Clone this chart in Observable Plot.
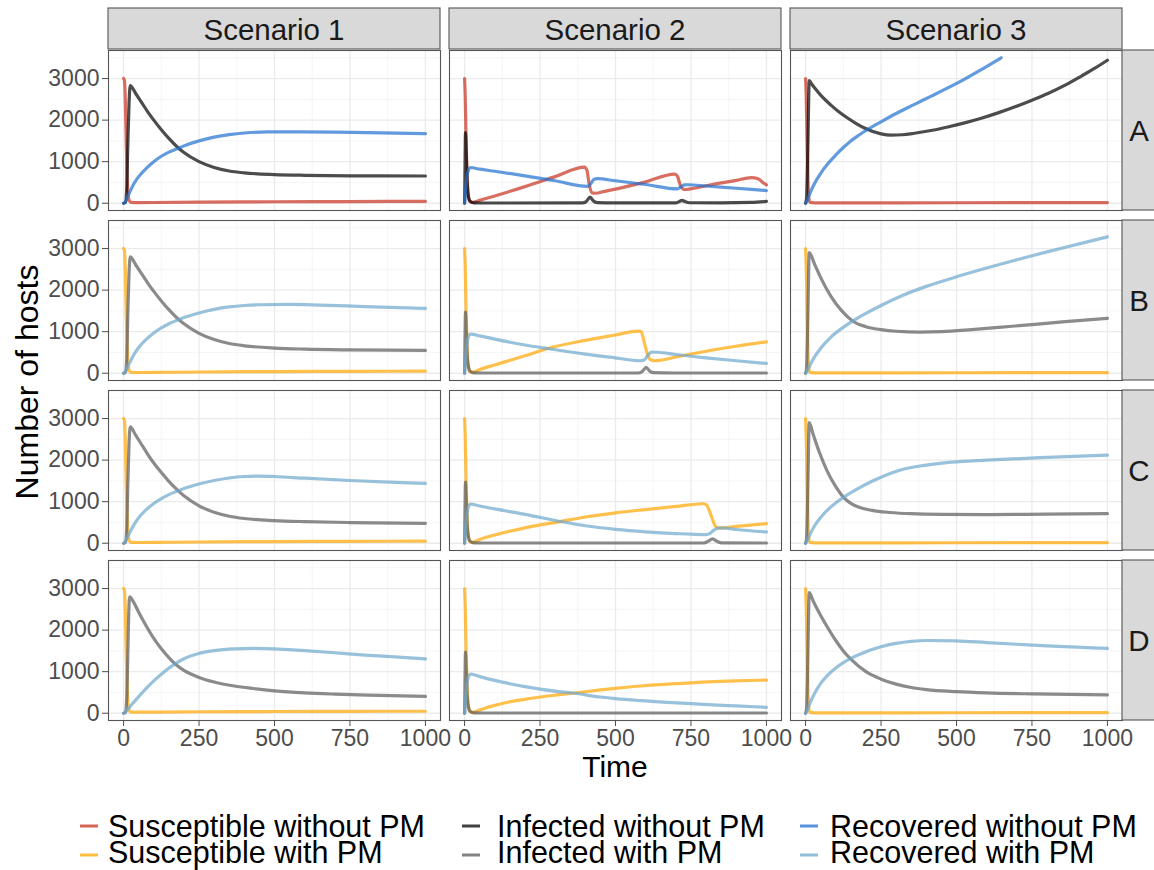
<!DOCTYPE html>
<html><head><meta charset="utf-8">
<script src="https://cdn.jsdelivr.net/npm/d3@7"></script>
<script src="https://cdn.jsdelivr.net/npm/@observablehq/plot@0.6"></script>
<style>
body{margin:0;background:#fff;font-family:"Liberation Sans",Arial,Helvetica,sans-serif;}
#wrap{position:relative;width:1154px;height:870px;overflow:hidden;}
svg{display:block;}
</style></head><body><div id="wrap"><div id="chart"></div><div id="legend"></div></div>
<script>
const scenarios = ["Scenario 1", "Scenario 2", "Scenario 3"];
const groups = ["A", "B", "C", "D"];
const compartments = ["Susceptible", "Infected", "Recovered"];
const seriesNames = ["Susceptible without PM", "Susceptible with PM", "Infected without PM", "Infected with PM", "Recovered without PM", "Recovered with PM"];
const seriesColors = ["#C8311E", "#FFA500", "#000000", "#5a5a5a", "#1F6FD0", "#6CA6CD"];
const xTicks = [0, 250, 500, 750, 1000];
const xTickLabels = ["0", "250", "500", "750", "1000"];
const xMinor = [125, 375, 625, 875];
const yTicks = [0, 1000, 2000, 3000];
const yTickLabels = ["0", "1000", "2000", "3000"];
const yMinor = [500, 1500, 2500, 3500];
const xTitle = "Time";
const yTitle = "Number of hosts";

// ---- Scenario 1 ----
const s1A_S = [[0,3000],[3,2950],[6,2400],[9,1400],[12,600],[15,200],[19,60],[25,20],[50,15],[100,18],[250,25],[500,35],[750,40],[1000,45]];
const s1A_I = [[0,0],[6,20],[10,300],[14,1400],[18,2400],[22,2830],[40,2640],[60,2420],[80,2200],[100,2000],[125,1770],[150,1560],[177,1360],[200,1220],[250,1000],[300,860],[350,775],[400,730],[500,690],[600,672],[750,660],[1000,655]];
const s1A_R = [[0,0],[5,15],[10,100],[20,260],[35,480],[50,640],[75,840],[100,1000],[125,1130],[150,1230],[177,1310],[200,1380],[250,1500],[300,1590],[350,1650],[400,1690],[477,1715],[588,1715],[700,1710],[810,1700],[1000,1675]];

const s1B_S = [[0,3000],[3,2950],[6,2400],[9,1400],[12,600],[15,200],[19,60],[25,20],[50,18],[100,20],[250,30],[500,40],[750,45],[1000,50]];
const s1B_I = [[0,0],[6,20],[10,300],[14,1400],[18,2400],[22,2800],[40,2610],[60,2390],[80,2170],[100,1970],[125,1740],[150,1530],[177,1330],[200,1190],[250,960],[300,810],[350,715],[400,660],[500,605],[600,580],[750,562],[1000,550]];
const s1B_R = [[0,0],[5,15],[10,100],[20,250],[35,460],[50,620],[75,815],[100,970],[125,1090],[150,1190],[177,1275],[200,1340],[250,1450],[300,1535],[350,1595],[400,1630],[450,1648],[550,1655],[650,1640],[800,1605],[1000,1560]];

const s1C_S = [[0,3000],[3,2950],[6,2400],[9,1400],[12,600],[15,200],[19,60],[25,20],[50,18],[100,20],[250,30],[500,40],[750,45],[1000,50]];
const s1C_I = [[0,0],[6,20],[10,300],[14,1400],[18,2400],[22,2800],[40,2600],[60,2370],[80,2140],[100,1930],[125,1700],[150,1490],[177,1290],[200,1140],[250,900],[300,745],[350,650],[400,595],[500,545],[600,520],[750,498],[1000,480]];
const s1C_R = [[0,0],[5,15],[10,100],[20,250],[35,455],[50,615],[75,805],[100,955],[125,1075],[150,1170],[177,1250],[200,1315],[250,1425],[300,1510],[350,1570],[400,1605],[450,1615],[500,1605],[600,1565],[750,1510],[900,1465],[1000,1440]];

const s1D_S = [[0,3000],[3,2950],[6,2400],[9,1400],[12,600],[15,200],[19,60],[25,25],[50,25],[100,28],[250,35],[500,42],[750,46],[1000,48]];
const s1D_I = [[0,0],[6,20],[10,300],[14,1400],[17,2400],[20,2800],[35,2650],[50,2430],[75,2100],[100,1800],[125,1550],[150,1340],[175,1160],[200,1030],[250,860],[300,750],[367,655],[430,595],[500,540],[600,490],[700,460],[850,430],[1000,405]];
const s1D_R = [[0,0],[5,15],[10,60],[25,190],[50,400],[75,600],[100,780],[125,940],[163,1150],[200,1310],[246,1430],[300,1505],[367,1548],[430,1560],[500,1550],[600,1505],[700,1455],[800,1400],[900,1355],[1000,1310]];

// ---- Scenario 2 ----
const s2A_S = [[0,3000],[2,2600],[5,1500],[8,700],[12,200],[18,40],[25,20],[50,70],[100,175],[200,400],[300,640],[397,870],[405,800],[413,450],[422,250],[435,240],[460,280],[500,340],[600,515],[696,700],[705,650],[715,430],[728,330],[760,360],[800,420],[900,550],[950,615],[972,590],[988,500],[1000,440]];
const s2A_I = [[0,0],[1,600],[3,1700],[5,1300],[8,600],[12,200],[18,50],[30,10],[100,5],[390,8],[403,40],[416,145],[426,60],[440,15],[500,8],[700,10],[710,35],[720,70],[730,40],[745,12],[850,10],[950,20],[1000,45]];
const s2A_R = [[0,0],[3,300],[8,650],[14,820],[20,860],[50,820],[100,770],[200,660],[300,540],[408,405],[418,470],[428,570],[440,590],[500,540],[600,450],[705,345],[716,390],[728,440],[740,445],[800,415],[900,360],[1000,305]];

const s2B_S = [[0,3000],[2,2600],[5,1500],[8,700],[12,200],[18,40],[25,20],[50,90],[100,200],[200,420],[275,595],[400,790],[500,920],[575,1015],[585,1005],[595,750],[605,480],[615,330],[630,300],[650,315],[700,390],[800,530],[900,650],[1000,755]];
const s2B_I = [[0,0],[1,600],[3,1470],[5,1100],[8,500],[12,180],[18,50],[30,10],[100,5],[575,5],[588,40],[602,140],[612,60],[625,15],[700,5],[1000,5]];
const s2B_R = [[0,0],[3,300],[8,700],[14,900],[21,940],[50,900],[100,820],[200,680],[275,595],[400,460],[500,370],[580,300],[595,320],[607,430],[620,510],[640,505],[700,450],[800,370],[900,300],[1000,235]];

const s2C_S = [[0,3000],[2,2600],[5,1500],[8,700],[12,200],[18,40],[25,20],[50,90],[100,200],[200,370],[320,526],[400,630],[500,730],[600,810],[700,885],[790,950],[800,935],[810,800],[820,600],[830,420],[842,370],[900,405],[1000,470]];
const s2C_I = [[0,0],[1,600],[3,1470],[5,1100],[8,500],[12,180],[18,50],[30,10],[100,5],[790,5],[805,40],[822,105],[835,50],[850,10],[1000,5]];
const s2C_R = [[0,0],[3,300],[8,700],[14,900],[21,940],[50,895],[100,825],[200,695],[320,520],[400,420],[500,335],[600,275],[700,232],[800,208],[812,230],[825,310],[840,365],[860,365],[900,330],[1000,272]];

const s2D_S = [[0,3000],[2,2600],[5,1500],[8,700],[12,200],[18,40],[25,20],[50,80],[100,190],[143,265],[200,335],[250,390],[300,435],[364,486],[450,560],[500,600],[585,655],[700,712],[806,756],[900,780],[1000,797]];
const s2D_I = [[0,0],[1,600],[3,1470],[5,1100],[8,500],[12,180],[18,50],[30,10],[100,5],[1000,5]];
const s2D_R = [[0,0],[3,300],[8,700],[14,900],[21,940],[50,880],[100,790],[150,710],[200,640],[250,580],[300,530],[358,486],[450,390],[500,350],[585,301],[700,250],[806,206],[900,175],[1000,143]];

// ---- Scenario 3 ----
const s3A_S = [[0,3000],[2,2600],[5,1500],[8,500],[11,100],[15,20],[30,10],[100,10],[500,12],[1000,15]];
const s3A_I = [[0,0],[3,100],[6,800],[9,2000],[12,2950],[20,2870],[35,2730],[50,2600],[84,2360],[110,2200],[139,2050],[165,1930],[195,1810],[250,1670],[283,1640],[320,1648],[361,1684],[420,1755],[471,1835],[530,1940],[582,2045],[640,2180],[692,2315],[750,2480],[803,2640],[860,2840],[914,3060],[960,3255],[1000,3440]];
const s3A_R = [[0,0],[5,60],[15,250],[30,480],[50,720],[75,960],[100,1160],[125,1340],[150,1500],[175,1630],[200,1750],[250,1960],[300,2160],[361,2380],[420,2590],[471,2775],[530,3000],[582,3215],[648,3500]];

const s3B_S = [[0,3000],[2,2600],[5,1500],[8,500],[11,100],[15,20],[30,10],[100,10],[500,12],[1000,15]];
const s3B_I = [[0,0],[3,100],[6,800],[9,2000],[12,2900],[30,2620],[50,2300],[84,1850],[120,1500],[157,1250],[200,1120],[250,1050],[300,1010],[380,990],[450,1000],[550,1050],[650,1110],[750,1170],[850,1235],[1000,1320]];
const s3B_R = [[0,0],[5,50],[15,200],[30,400],[50,600],[84,870],[120,1080],[157,1260],[200,1440],[250,1630],[317,1860],[400,2090],[500,2320],[600,2530],[700,2730],[800,2920],[900,3100],[1000,3280]];

const s3C_S = [[0,3000],[2,2600],[5,1500],[8,500],[11,100],[15,20],[30,10],[100,10],[500,12],[1000,15]];
const s3C_I = [[0,0],[3,100],[6,800],[9,2000],[12,2900],[25,2620],[45,2200],[70,1760],[100,1360],[125,1110],[150,960],[175,870],[220,790],[280,740],[350,710],[450,695],[600,690],[800,700],[1000,710]];
const s3C_R = [[0,0],[5,60],[15,220],[30,420],[50,620],[80,850],[105,1000],[133,1140],[175,1320],[220,1490],[280,1680],[317,1770],[400,1880],[483,1950],[600,2000],[800,2065],[1000,2120]];

const s3D_S = [[0,3000],[2,2600],[5,1500],[8,500],[11,100],[15,20],[30,10],[100,10],[500,12],[1000,15]];
const s3D_I = [[0,0],[3,100],[6,800],[9,2000],[12,2900],[25,2700],[45,2420],[70,2100],[100,1750],[125,1500],[150,1300],[200,1000],[250,820],[300,700],[350,620],[400,570],[500,520],[600,490],[750,465],[1000,440]];
const s3D_R = [[0,0],[5,60],[15,250],[30,480],[50,720],[75,930],[100,1090],[125,1220],[150,1320],[200,1480],[250,1600],[300,1680],[350,1730],[400,1750],[500,1740],[600,1700],[700,1660],[800,1620],[900,1590],[1000,1560]];

const panelSeries = {
  "Scenario 1": {A: [s1A_S, s1A_I, s1A_R], B: [s1B_S, s1B_I, s1B_R], C: [s1C_S, s1C_I, s1C_R], D: [s1D_S, s1D_I, s1D_R]},
  "Scenario 2": {A: [s2A_S, s2A_I, s2A_R], B: [s2B_S, s2B_I, s2B_R], C: [s2C_S, s2C_I, s2C_R], D: [s2D_S, s2D_I, s2D_R]},
  "Scenario 3": {A: [s3A_S, s3A_I, s3A_R], B: [s3B_S, s3B_I, s3B_R], C: [s3C_S, s3C_I, s3C_R], D: [s3D_S, s3D_I, s3D_R]}
};

const rows = [];
for (const sc of scenarios) for (const g of groups) {
  panelSeries[sc][g].forEach((pts, k) => {
    const series = compartments[k] + (g === "A" ? " without PM" : " with PM");
    for (const [t, v] of pts) rows.push({scenario: sc, group: g, series, time: t, value: v});
  });
}

const W = 1154, H = 800;
const FONT = "'Liberation Sans', Arial, sans-serif";
const plot = Plot.plot({
  width: W, height: H,
  marginTop: 49, marginRight: 32, marginBottom: 79, marginLeft: 108,
  style: {fontFamily: FONT, background: "white", overflow: "visible"},
  x: {domain: [-50, 1050]},
  y: {domain: [-175, 3675]},
  fx: {domain: scenarios, paddingInner: 9 / 341, paddingOuter: 0, axis: null},
  fy: {domain: groups, paddingInner: 10 / 171, paddingOuter: 0, axis: null},
  color: {domain: seriesNames, range: seriesColors},
  marks: [
    Plot.ruleX(xMinor, {stroke: "#f0f0f0", strokeWidth: 0.7}),
    Plot.ruleY(yMinor, {stroke: "#f0f0f0", strokeWidth: 0.7}),
    Plot.ruleX(xTicks, {stroke: "#ebebeb", strokeWidth: 1.3}),
    Plot.ruleY(yTicks, {stroke: "#ebebeb", strokeWidth: 1.3}),
    Plot.line(rows, {x: "time", y: "value", z: "series", stroke: "series", fx: "scenario", fy: "group",
      strokeWidth: 3.2, strokeOpacity: 0.7, curve: "monotone-x"}),
    Plot.frame({stroke: "#555", strokeWidth: 1.1}),
    Plot.axisX({ticks: xTicks, tickFormat: d => xTickLabels[xTicks.indexOf(d)], tickSize: 6, tickPadding: 3,
      fontSize: 23, label: null, anchor: "bottom", color: "#4d4d4d"}),
    Plot.axisY({ticks: yTicks, tickFormat: d => yTickLabels[yTicks.indexOf(d)], tickSize: 6, tickPadding: 3,
      fontSize: 23, label: null, anchor: "left", color: "#4d4d4d"})
  ]
});
document.getElementById("chart").appendChild(plot);

// strips and axis titles, positioned from Plot's facet scales
const svg = d3.select(plot);
const fxS = plot.scale("fx"), fyS = plot.scale("fy");
const gS = svg.append("g").attr("font-family", FONT);
for (const s of scenarios) {
  const x0 = fxS.apply(s), bw = fxS.bandwidth;
  gS.append("rect").attr("x", x0).attr("y", 8).attr("width", bw).attr("height", 41)
    .attr("fill", "#d9d9d9").attr("stroke", "#555").attr("stroke-width", 1.1);
  gS.append("text").attr("x", x0 + bw / 2).attr("y", 29).attr("dy", "0.36em").attr("text-anchor", "middle")
    .attr("font-size", 29.5).attr("fill", "#1a1a1a").text(s);
}
for (const g of groups) {
  const y0 = fyS.apply(g), bh = fyS.bandwidth;
  const x0 = W - 32;
  gS.append("rect").attr("x", x0).attr("y", y0).attr("width", 40).attr("height", bh)
    .attr("fill", "#d9d9d9").attr("stroke", "#555").attr("stroke-width", 1.1);
  gS.append("text").attr("x", x0 + 17).attr("y", y0 + bh / 2).attr("dy", "0.36em").attr("text-anchor", "middle")
    .attr("font-size", 29.5).attr("fill", "#1a1a1a").text(g);
}
gS.append("text").attr("x", 615).attr("y", 777).attr("text-anchor", "middle")
  .attr("font-size", 30).attr("fill", "#000").text(xTitle);
gS.append("text").attr("transform", "translate(38,382) rotate(-90)").attr("text-anchor", "middle")
  .attr("font-size", 32).attr("fill", "#000").text(yTitle);

// legend below the plot
const leg = d3.select("#legend").append("svg").attr("width", W).attr("height", 70).attr("font-family", FONT);
const colX = [[80, 108], [462, 497], [800, 830]];
const rowY = [[26, 37], [55, 63]];
seriesNames.forEach((name, i) => {
  const c = Math.floor(i / 2), r = i % 2;
  leg.append("line").attr("x1", colX[c][0]).attr("x2", colX[c][0] + 18)
    .attr("y1", rowY[r][0]).attr("y2", rowY[r][0])
    .attr("stroke", seriesColors[i]).attr("stroke-opacity", 0.75).attr("stroke-width", 3);
  leg.append("text").attr("x", colX[c][1]).attr("y", rowY[r][1]).attr("font-size", 30.5)
    .attr("fill", "#000").text(name);
});
</script></body></html>
